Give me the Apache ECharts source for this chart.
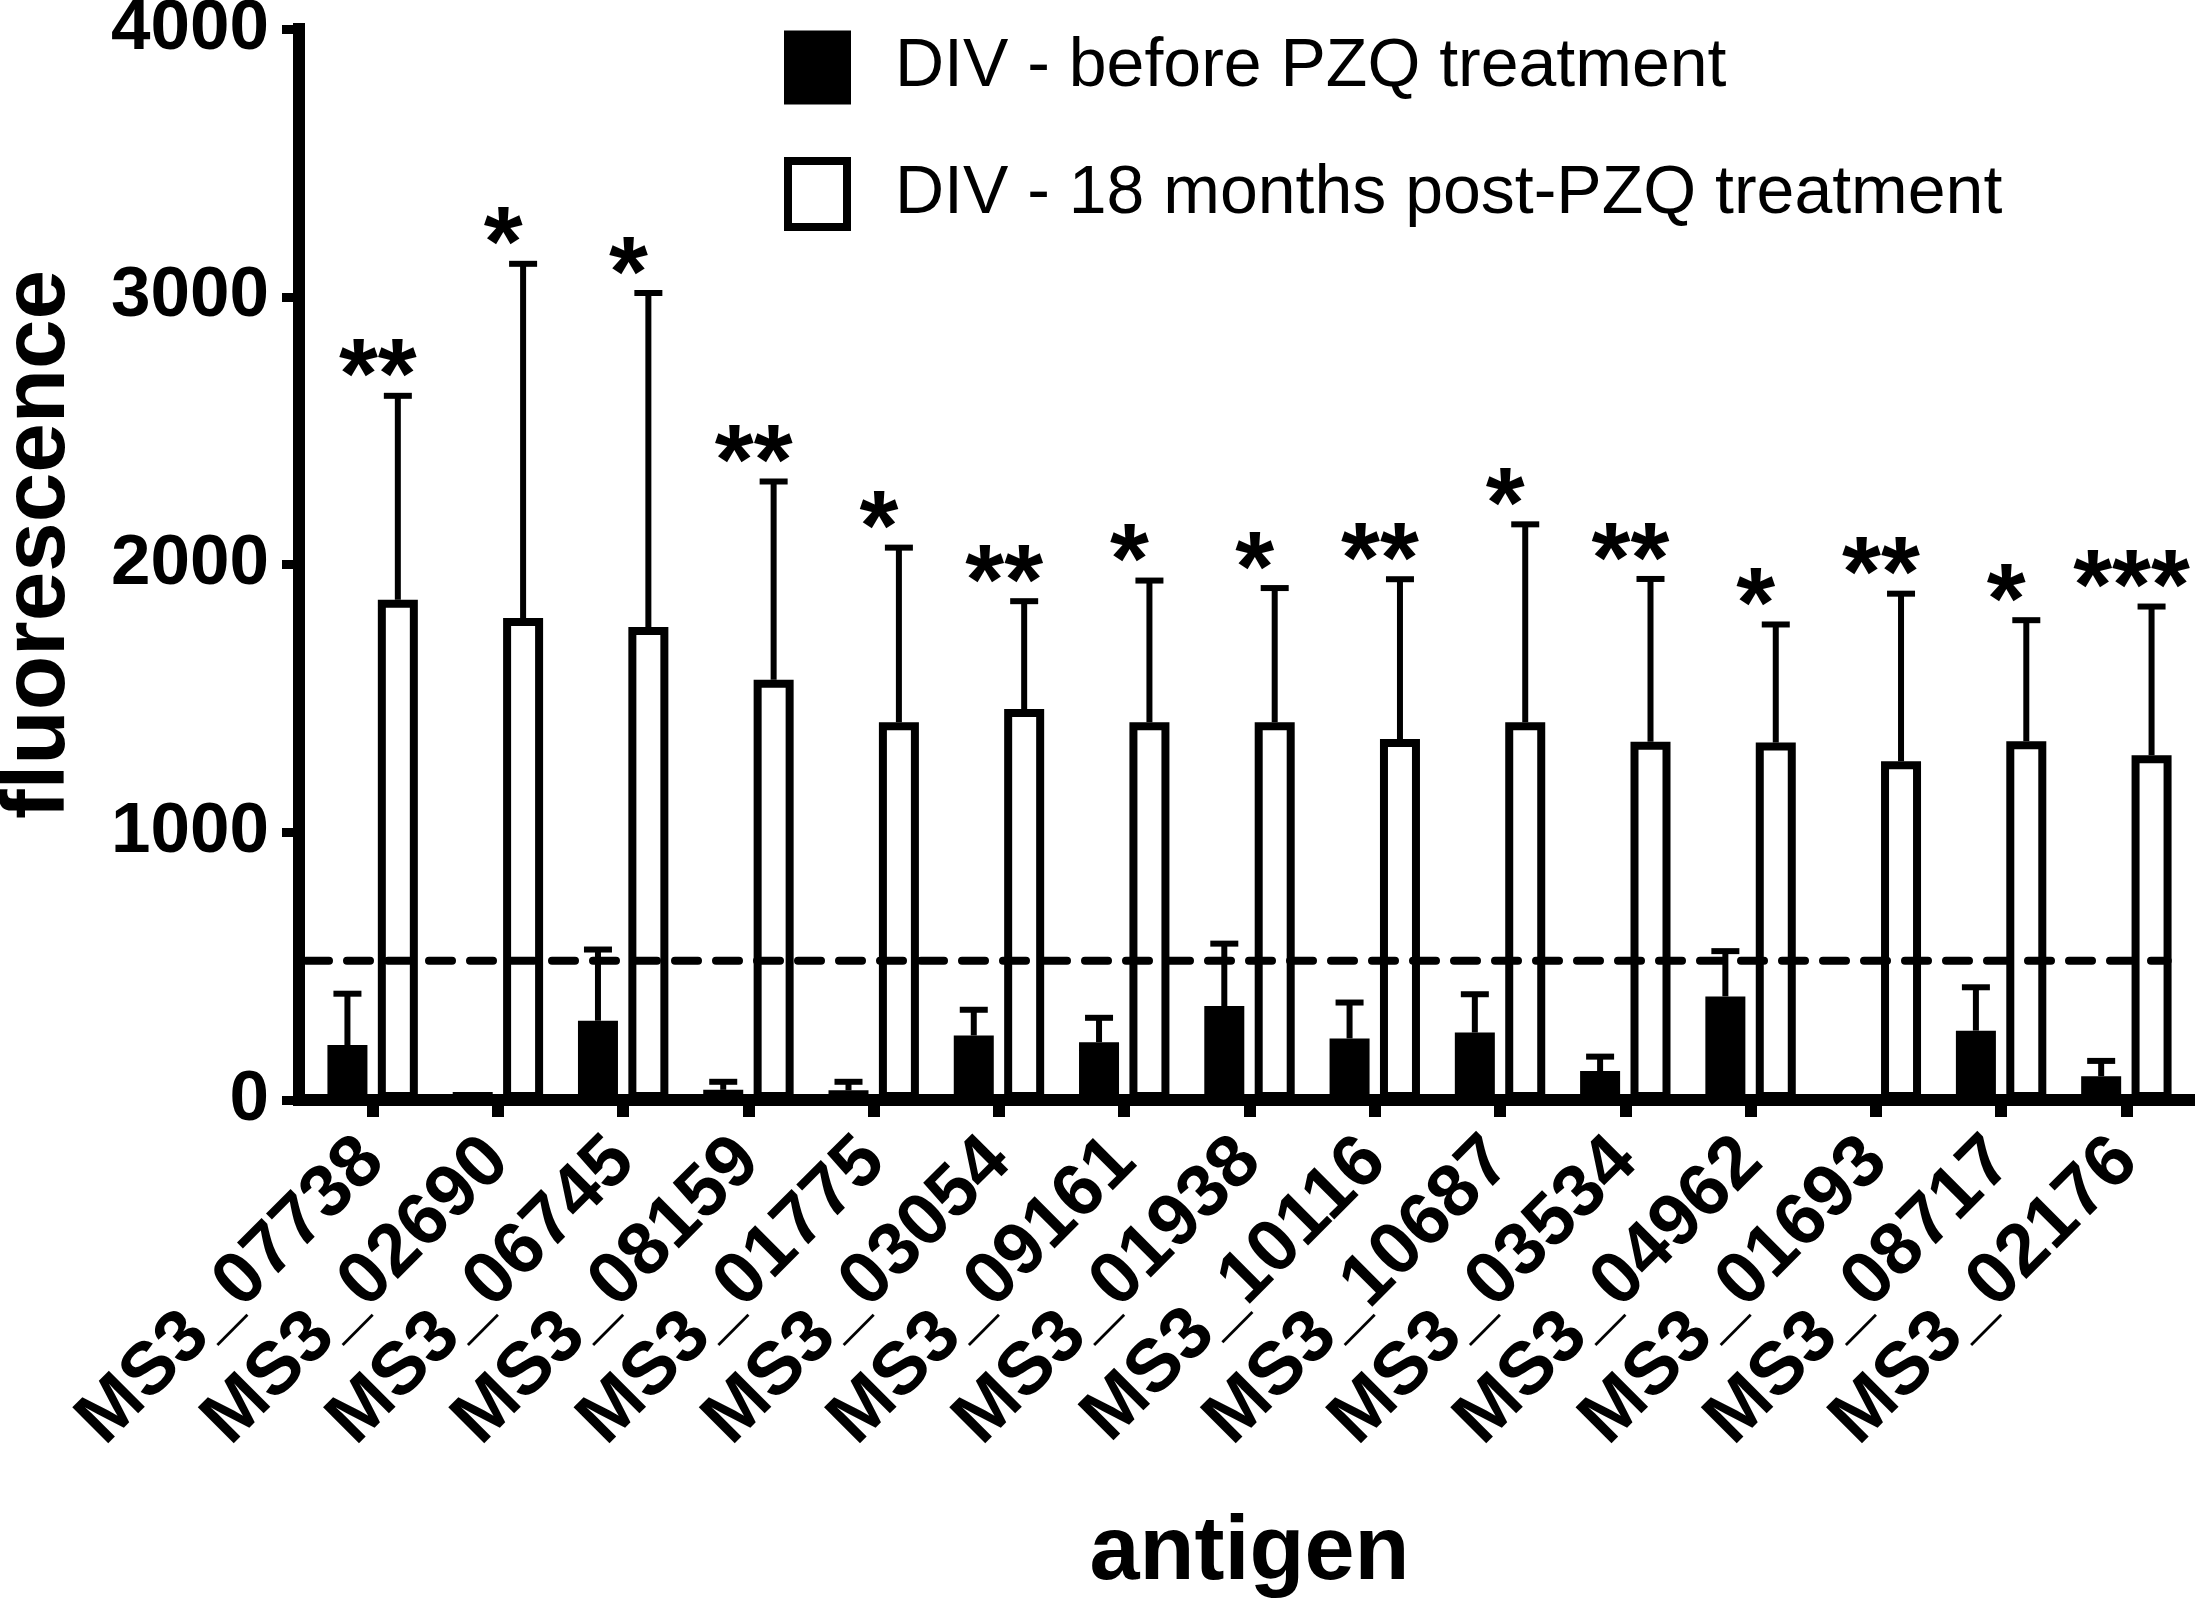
<!DOCTYPE html>
<html>
<head>
<meta charset="utf-8">
<script src="https://cdn.jsdelivr.net/npm/echarts@6/dist/echarts.min.js"></script>
<style>
html,body{margin:0;padding:0;background:#fff;}
#chart{width:2201px;height:1604px;}
</style>
</head>
<body>
<div id="chart"></div>
<script>
// ---------- data ----------
const categories = ['MS3_07738','MS3_02690','MS3_06745','MS3_08159','MS3_01775','MS3_03054','MS3_09161','MS3_01938','MS3_10116','MS3_10687','MS3_03534','MS3_04962','MS3_01693','MS3_08717','MS3_02176'];
const beforeMean  = [205, 30, 296, 38, 36, 241, 216, 351, 230, 252, 108, 387, 0, 259, 89];
const beforeUpper = [397, 30, 562, 68, 68, 337, 307, 584, 364, 395, 162, 556, 0, 421, 146];
const afterMean   = [1868, 1800, 1767, 1570, 1411, 1460, 1411, 1411, 1348, 1411, 1338, 1335, 1265, 1340, 1288];
const afterUpper  = [2630, 3123, 3014, 2310, 2063, 1863, 1940, 1912, 1945, 2150, 1946, 1776, 1891, 1792, 1843];
const stars = ['**','*','*','**','*','**','*','*','**','*','**','*','**','*','***'];
const threshold = 520;
const yMin = 0, yMax = 4000, yInterval = 1000;
const seriesNames = ['DIV - before PZQ treatment', 'DIV - 18 months post-PZQ treatment'];

// ---------- style constants ----------
const FONT = '"Liberation Sans", Arial, Helvetica, sans-serif';
const BAR_W = 40;
const BAR_GAP_PCT = 26;
const HALF = BAR_W * (1 + BAR_GAP_PCT / 100) / 2;
const BORDER = 8;
const ERR_W = 6;
const CAP_HALF = 14;

function errorSeries(means, uppers, side, withStars) {
  return {
    type: 'custom',
    z: 4,
    silent: true,
    data: means.map((m, i) => [i, m, uppers[i]]),
    renderItem: function (params, api) {
      const i = api.value(0);
      const base = api.coord([i, api.value(1)]);
      const top = api.coord([i, api.value(2)]);
      const x = base[0] + side * HALF;
      const children = [];
      if (api.value(2) > api.value(1)) {
        children.push({
          type: 'line',
          shape: { x1: x, y1: base[1], x2: x, y2: top[1] },
          style: { stroke: '#000', lineWidth: ERR_W }
        });
        children.push({
          type: 'line',
          shape: { x1: x - CAP_HALF, y1: top[1], x2: x + CAP_HALF, y2: top[1] },
          style: { stroke: '#000', lineWidth: ERR_W }
        });
      }
      if (withStars) {
        children.push({
          type: 'text',
          style: {
            text: stars[params.dataIndex],
            x: x - 20,
            y: top[1] - 15,
            align: 'center',
            verticalAlign: 'middle',
            fontSize: 100,
            fontWeight: 'bold',
            fontFamily: FONT,
            fill: '#000'
          }
        });
      }
      return { type: 'group', children: children };
    }
  };
}

const chart = echarts.init(document.getElementById('chart'), null, { renderer: 'canvas' });

const option = {
  animation: false,
  backgroundColor: '#fff',
  grid: { left: 310, right: 12, top: 29, bottom: 504, containLabel: false, outerBoundsMode: 'none' },
  legend: [
    {
      data: [{ name: seriesNames[0], itemStyle: { color: '#000', borderColor: '#000', borderWidth: BORDER } }],
      left: 784, top: 22, padding: 0,
      orient: 'vertical', icon: 'rect', itemWidth: 59, itemHeight: 66,
      selectedMode: false,
      textStyle: { fontSize: 68, fontFamily: FONT, color: '#000', lineHeight: 68, padding: [0, 0, 23, 43] }
    },
    {
      data: [{ name: seriesNames[1], itemStyle: { color: '#fff', borderColor: '#000', borderWidth: BORDER } }],
      left: 784, top: 157, padding: 0,
      orient: 'vertical', icon: 'rect', itemWidth: 59, itemHeight: 66,
      selectedMode: false,
      textStyle: { fontSize: 68, fontFamily: FONT, color: '#000', lineHeight: 68, padding: [0, 0, 0, 43] }
    }
  ],
  xAxis: {
    type: 'category',
    data: categories,
    boundaryGap: true,
    axisLine: { show: true, onZero: false, lineStyle: { color: '#000', width: 12, cap: 'square' } },
    axisTick: { show: true, alignWithLabel: true, length: 17, lineStyle: { color: '#000', width: 12 } },
    axisLabel: { interval: 0, rotate: 45, margin: 50, fontSize: 74, fontWeight: 'bold', fontFamily: FONT, color: '#000' },
    splitLine: { show: false },
    name: 'antigen',
    nameLocation: 'middle',
    nameGap: 409,
    nameTextStyle: { fontSize: 90, fontWeight: 'bold', fontFamily: FONT, color: '#000' }
  },
  yAxis: {
    type: 'value',
    min: yMin, max: yMax, interval: yInterval,
    offset: 11,
    axisLine: { show: true, lineStyle: { color: '#000', width: 12, cap: 'square' } },
    axisTick: { show: true, length: 17, lineStyle: { color: '#000', width: 9 } },
    axisLabel: { margin: 30, fontSize: 71, fontWeight: 'bold', fontFamily: FONT, color: '#000',
                 formatter: function (v) { return String(v); } },
    splitLine: { show: false },
    name: 'fluorescence',
    nameLocation: 'middle',
    nameGap: 215,
    nameRotate: 90,
    nameTextStyle: { fontSize: 89, fontWeight: 'bold', fontFamily: FONT, color: '#000', padding: [0, 0, 0, 40] }
  },
  series: [
    {
      type: 'bar',
      name: seriesNames[0],
      data: beforeMean,
      barWidth: BAR_W,
      barGap: BAR_GAP_PCT + '%',
      itemStyle: { color: '#000', borderColor: '#000', borderWidth: BORDER },
      emphasis: { disabled: true },
      z: 2
    },
    {
      type: 'bar',
      name: seriesNames[1],
      data: afterMean,
      barWidth: BAR_W,
      barGap: BAR_GAP_PCT + '%',
      itemStyle: { color: '#fff', borderColor: '#000', borderWidth: BORDER },
      emphasis: { disabled: true },
      z: 2
    },
    errorSeries(beforeMean, beforeUpper, -1, false),
    errorSeries(afterMean, afterUpper, 1, true),
    {
      type: 'custom',
      z: 5,
      silent: true,
      data: [[0, threshold]],
      renderItem: function (params, api) {
        const p0 = api.coord([0, api.value(1)]);
        const p1 = api.coord([categories.length - 1, api.value(1)]);
        const band = api.size([1, 0])[0];
        return {
          type: 'line',
          shape: { x1: p0[0] - band / 2 - 4, y1: p0[1], x2: p1[0] + band * 0.33, y2: p1[1] },
          style: { stroke: '#000', lineWidth: 8, lineDash: [23, 18], lineCap: 'round' }
        };
      }
    }
  ]
};
chart.setOption(option);
</script>
</body>
</html>
